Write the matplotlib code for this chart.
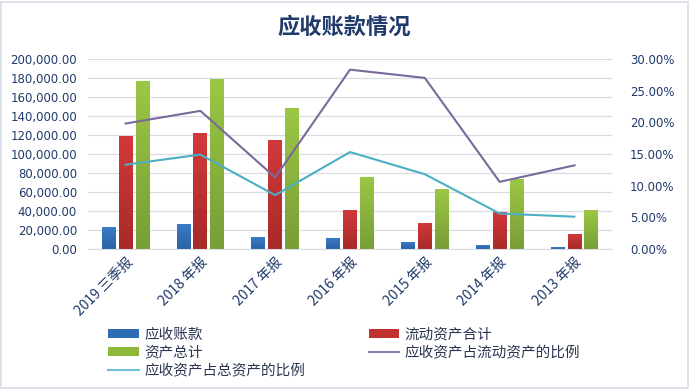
import matplotlib
matplotlib.use("Agg")
import matplotlib.pyplot as plt
import numpy as np
from matplotlib.ticker import FuncFormatter, MultipleLocator
from matplotlib.patches import Rectangle, Patch
from matplotlib.lines import Line2D

plt.rcParams['font.family'] = ['Noto Sans CJK SC', 'DejaVu Sans']

categories = ["2019 三季报", "2018 年报", "2017 年报", "2016 年报", "2015 年报", "2014 年报", "2013 年报"]
receivables = [23500, 26300, 12600, 11600, 7400, 4200, 2100]
current_assets = [119000, 122100, 114700, 41000, 27400, 39000, 15800]
total_assets = [176800, 179000, 148400, 75800, 63200, 73700, 41000]
ratio_current = [19.8, 21.8, 11.3, 28.3, 27.0, 10.6, 13.2]
ratio_total = [13.3, 14.9, 8.5, 15.3, 11.8, 5.6, 5.1]

fig = plt.figure(figsize=(6.89, 3.90), dpi=100)
fig.patch.set_facecolor("white")
fig.add_artist(Rectangle((0.002, 0.004), 0.996, 0.992, transform=fig.transFigure,
                         fill=False, edgecolor="#D5DCE6", linewidth=1.2))

ax = fig.add_axes([0.128, 0.3615, 0.760, 0.4875])
ax2 = ax.twinx()

x = np.arange(len(categories))
w = 0.185
gap = 0.04
txtc = "#1F3A6B"

def grad_bars(bars, top_col, bot_col):
    cmap = matplotlib.colors.LinearSegmentedColormap.from_list("g", [bot_col, top_col])
    for b in bars:
        bx, by = b.get_x(), b.get_y()
        bw, bh = b.get_width(), b.get_height()
        b.set_facecolor("none")
        im = ax.imshow(np.linspace(0, 1, 64).reshape(-1, 1), cmap=cmap, origin="lower",
                       extent=[bx, bx + bw, by, by + bh], aspect="auto", zorder=2)
        im.set_clip_path(b)

b1 = ax.bar(x - (w + gap), receivables, w, zorder=2, linewidth=0)
b2 = ax.bar(x, current_assets, w, zorder=2, linewidth=0)
b3 = ax.bar(x + (w + gap), total_assets, w, zorder=2, linewidth=0)
grad_bars(b1, "#3B7CC8", "#2A62A6")
grad_bars(b2, "#D2393A", "#A82A28")
grad_bars(b3, "#9CC745", "#789E36")

ax.set_xlim(-0.5, len(categories) - 0.5)
ax.set_ylim(0, 200000)
ax.yaxis.set_major_locator(MultipleLocator(20000))
ax.yaxis.set_major_formatter(FuncFormatter(lambda v, p: f"{v:,.2f}"))
ax.grid(axis="y", color="#D9DDE3", linewidth=0.9, zorder=0)
ax.set_axisbelow(True)
for s in ax.spines.values():
    s.set_visible(False)
for s in ax2.spines.values():
    s.set_visible(False)
ax.spines["bottom"].set_visible(True)
ax.spines["bottom"].set_color("#D9DDE3")
ax.tick_params(axis="y", length=0, labelsize=8.5, labelcolor=txtc, pad=8)
ax.tick_params(axis="x", length=0, labelsize=10, labelcolor=txtc, pad=4)
ax.set_xticks(x)
ax.set_xticklabels(categories, rotation=45, ha="right", rotation_mode="anchor")
for t in ax.get_yticklabels():
    t.set_fontfamily("DejaVu Sans")

ax2.plot(x, ratio_current, color="#7A6A9B", linewidth=1.5, zorder=3)
ax2.plot(x, ratio_total, color="#4BAFC4", linewidth=1.5, zorder=3)
ax2.set_ylim(0, 30)
ax2.yaxis.set_major_locator(MultipleLocator(5))
ax2.yaxis.set_major_formatter(FuncFormatter(lambda v, p: f"{v:.2f}%"))
ax2.tick_params(axis="y", length=0, labelsize=8.5, labelcolor=txtc, pad=13)
for t in ax2.get_yticklabels():
    t.set_fontfamily("DejaVu Sans")

fig.text(0.5, 0.93, "应收账款情况", ha="center", va="center", fontsize=16,
         fontweight="bold", color="#1F3A6B")

handles = [Patch(facecolor="#2E6DB4"), Patch(facecolor="#8DB83A"),
           Line2D([], [], color="#6FC0D6", linewidth=1.5),
           Patch(facecolor="#C0302E"), Line2D([], [], color="#8F7FB0", linewidth=1.5)]
labels = ["应收账款", "资产总计", "应收资产占总资产的比例", "流动资产合计", "应收资产占流动资产的比例"]
leg = fig.legend(handles, labels, ncol=2, loc="upper left", bbox_to_anchor=(0.149, 0.175),
                 frameon=False, fontsize=10.5, handlelength=2.1, handleheight=0.55,
                 labelspacing=0.28, columnspacing=4.35, handletextpad=0.35, borderaxespad=0)
for t in leg.get_texts():
    t.set_color("#2A3550")

fig.savefig("out.png", dpi=100)
